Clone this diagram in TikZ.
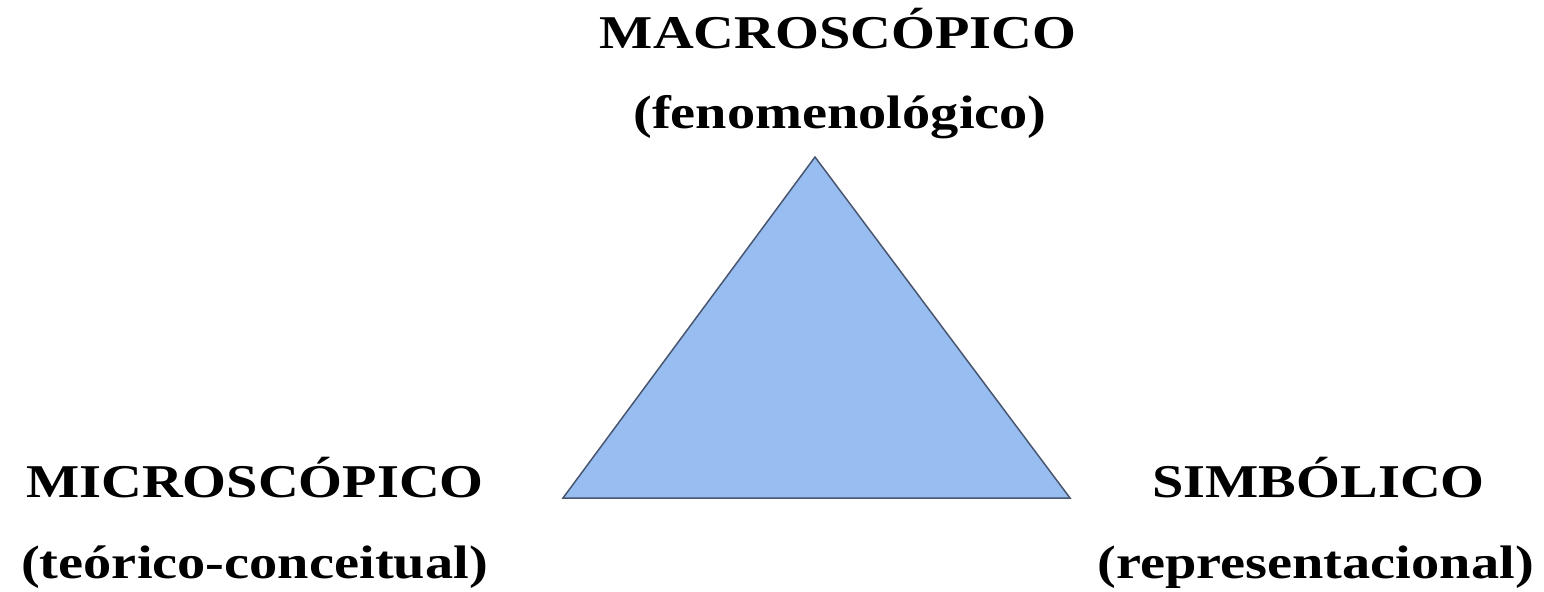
\documentclass[tikz,border=0pt]{standalone}
\usepackage{fontspec}
\setmainfont{Liberation Serif}
\newfontfamily\lvlfont[FakeStretch=1.2]{Liberation Serif}
\usetikzlibrary{positioning}
\definecolor{trifill}{RGB}{152,189,240}
\definecolor{triedge}{RGB}{72,86,112}

\begin{document}
\begin{tikzpicture}[x=.5pt,y=-.5pt,
 every node/.style={inner sep=0pt,anchor=base},
 level/.style={font=\lvlfont\bfseries\fontsize{23.5}{28}\selectfont},
 tri/.style={fill=trifill,draw=triedge,line width=.75pt,line join=miter}]

\useasboundingbox (0,0) rectangle (1544,591);

\coordinate (apex) at (815,157);
\coordinate (left) at (563,498);
\coordinate (right) at (1070,498);
\draw[tri] (apex)--(right)--(left)--cycle;

\node[level] (macro) at (838,48) {MACROSCÓPICO};
\node[level] (macrosub) at (840,128) {(fenomenológico)};
\node[level] (micro) at (255,497) {MICROSCÓPICO};
\node[level] (microsub) at (254.5,578) {(teórico-conceitual)};
\node[level] (simb) at (1318.5,497) {SIMBÓLICO};
\node[level] (simbsub) at (1315.5,578) {(representacional)};
\end{tikzpicture}
\end{document}
